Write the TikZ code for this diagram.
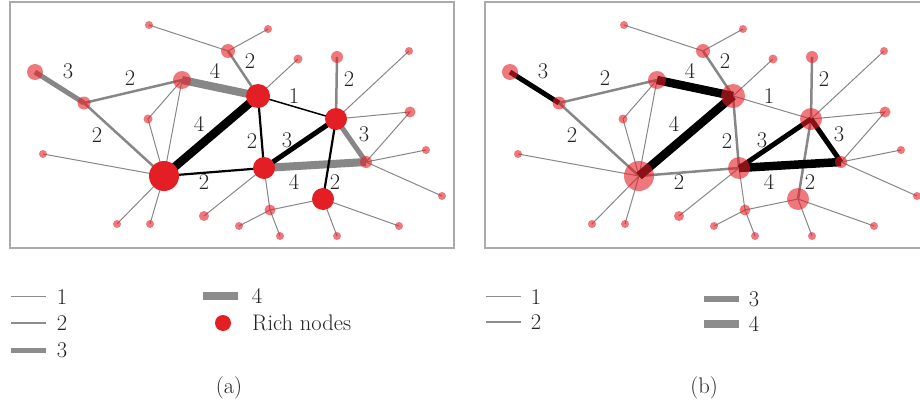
\documentclass[tikz,border=0pt]{standalone}
\usepackage{fontspec}
\setmainfont{Latin Modern Roman}
\definecolor{richred}{RGB}{227,30,36}
\definecolor{egray}{RGB}{135,135,135}
\definecolor{lgray}{RGB}{140,140,140}
\definecolor{fgray}{RGB}{170,170,170}
\definecolor{tgray}{RGB}{35,35,35}
\pgfdeclarelayer{edges}
\pgfsetlayers{edges,main}
\tikzset{
  pn/.style={circle,fill=richred,fill opacity=0.6,draw=none,inner sep=0pt,minimum size=#1pt},
  rn/.style={circle,fill=richred,draw=none,inner sep=0pt,minimum size=#1pt},
  g1/.style={draw=egray,line width=1pt},
  g2/.style={draw=egray,line width=2.5pt},
  g3/.style={draw=egray,line width=5pt},
  g4/.style={draw=egray,line width=8pt},
  k1/.style={draw=black,line width=1.5pt},
  k2/.style={draw=black,line width=2.2pt},
  k3/.style={draw=black,line width=5pt},
  k4/.style={draw=black,line width=8.5pt},
  lab/.style={inner sep=0pt,text=tgray,font=\fontsize{22.5}{25}\selectfont},
  frame/.style={draw=fgray,line width=1.5pt},
  leg/.style={draw=lgray},
}
% graph nodes: #1 suffix, #2 style of rich nodes
\newcommand\gnodes[2]{%
  \node[pn=16] (A#1) at (35,72) {};
  \node[pn=13] (B#1) at (84,103) {};
  \node[pn=18] (C#1) at (182,80) {};
  \node[pn=9]  (D#1) at (148,119) {};
  \node[#2=30] (E#1) at (164,176) {};
  \node[pn=8]  (F#1) at (43,154) {};
  \node[pn=8]  (G#1) at (149,25) {};
  \node[pn=14] (H#1) at (228,51) {};
  \node[#2=24] (I#1) at (258,96) {};
  \node[#2=22] (K#1) at (336,119) {};
  \node[#2=22] (N#1) at (264,168) {};
  \node[#2=22] (O#1) at (323,199) {};
  \node[pn=12] (J#1) at (337,57) {};
  \node[pn=11] (L#1) at (410,112) {};
  \node[pn=12] (M#1) at (366,162) {};
  \node[pn=11] (P#1) at (270,210) {};
  \node[pn=8]  (Qa#1) at (117,224) {};
  \node[pn=8]  (Qb#1) at (150,224) {};
  \node[pn=10] (Qc#1) at (204,216) {};
  \node[pn=8]  (Qd#1) at (239,226) {};
  \node[pn=8]  (Qe#1) at (280,236) {};
  \node[pn=8]  (Qf#1) at (337,236) {};
  \node[pn=8]  (Qg#1) at (399,226) {};
  \node[pn=8]  (Qh#1) at (268,29) {};
  \node[pn=9]  (Qi#1) at (298,59) {};
  \node[pn=8]  (Qj#1) at (409,51) {};
  \node[pn=8]  (Qk#1) at (426,150) {};
  \node[pn=8]  (Ql#1) at (442,196) {};
}
\newcommand\thinedges[1]{%
  \draw[g1] (C#1.center) -- (E#1.center);
  \draw[g1] (C#1.center) -- (D#1.center) -- (E#1.center);
  \draw[g1] (F#1.center) -- (E#1.center);
  \draw[g1] (Qa#1.center) -- (E#1.center) -- (Qb#1.center);
  \draw[g1] (G#1.center) -- (H#1.center) -- (Qh#1.center);
  \draw[g1] (I#1.center) -- (Qi#1.center);
  \draw[g1] (K#1.center) -- (Qj#1.center);
  \draw[g1] (K#1.center) -- (L#1.center) -- (M#1.center);
  \draw[g1] (Qk#1.center) -- (M#1.center) -- (Ql#1.center);
  \draw[g1] (Qd#1.center) -- (P#1.center) -- (O#1.center);
  \draw[g1] (Qf#1.center) -- (O#1.center) -- (Qg#1.center);
  \draw[g1] (N#1.center) -- (P#1.center) -- (Qe#1.center);
  \draw[g1] (Qc#1.center) -- (N#1.center);
}
\newcommand\glabels[1]{%
  \node[lab] (t1#1) at (68,71) {3};
  \node[lab] (t2#1) at (130,78) {2};
  \node[lab] (t3#1) at (97,135) {2};
  \node[lab] (t4#1) at (215,71) {4};
  \node[lab] (t5#1) at (199,124) {4};
  \node[lab] (t6#1) at (204,182) {2};
  \node[lab] (t7#1) at (250,61) {2};
  \node[lab] (t8#1) at (294,96) {1};
  \node[lab] (t9#1) at (252,141) {2};
  \node[lab] (t10#1) at (287,140) {3};
  \node[lab] (t11#1) at (294,182) {4};
  \node[lab] (t12#1) at (364,134) {3};
  \node[lab] (t13#1) at (349,79) {2};
  \node[lab] (t14#1) at (335,182) {2};
}
\begin{document}
\begin{tikzpicture}[x=1pt,y=-1pt]
\useasboundingbox (0,0) rectangle (920,404);
\draw[frame] (10,2) rectangle (454,248);
\draw[frame] (485,2) rectangle (930,248);

% ---------- panel (a)
\gnodes{a}{rn}
\begin{pgfonlayer}{edges}
  \thinedges{a}
  \draw[g3] (Aa.center) -- (Ba.center);
  \draw[g2] (Ba.center) -- (Ca.center);
  \draw[g2] (Ba.center) -- (Ea.center);
  \draw[g4] (Ca.center) -- (Ia.center);
  \draw[g2] (Ha.center) -- (Ia.center);
  \draw[g2] (Ka.center) -- (Ja.center);
  \draw[g4] (Na.center) -- (Ma.center);
  \draw[g3] (Ka.center) -- (Ma.center);
  \draw[k4] (Ea.center) -- (Ia.center);
  \draw[k2] (Ea.center) -- (Na.center);
  \draw[k1] (Ia.center) -- (Ka.center);
  \draw[k2] (Ia.center) -- (Na.center);
  \draw[k3] (Na.center) -- (Ka.center);
  \draw[k2] (Ka.center) -- (Oa.center);
\end{pgfonlayer}
\glabels{a}

% ---------- panel (b)
\begin{scope}[xshift=475pt]
\gnodes{b}{pn}
\glabels{b}
\end{scope}
\begin{pgfonlayer}{edges}
  \thinedges{b}
  \draw[g2] (Bb.center) -- (Cb.center);
  \draw[g2] (Bb.center) -- (Eb.center);
  \draw[g2] (Hb.center) -- (Ib.center);
  \draw[g2] (Kb.center) -- (Jb.center);
  \draw[g2] (Eb.center) -- (Nb.center);
  \draw[g1] (Ib.center) -- (Kb.center);
  \draw[g2] (Ib.center) -- (Nb.center);
  \draw[g2] (Kb.center) -- (Ob.center);
  \draw[k3] (Ab.center) -- (Bb.center);
  \draw[k4] (Cb.center) -- (Ib.center);
  \draw[k4] (Eb.center) -- (Ib.center);
  \draw[k3] (Nb.center) -- (Kb.center);
  \draw[k4] (Nb.center) -- (Mb.center);
  \draw[k3] (Kb.center) -- (Mb.center);
\end{pgfonlayer}

% ---------- legend (a)
\coordinate (la1s) at (11,296);  \coordinate (la1e) at (46,296);
\coordinate (la2s) at (11,323);  \coordinate (la2e) at (46,323);
\coordinate (la3s) at (11,350);  \coordinate (la3e) at (46,350);
\coordinate (la4s) at (203,296); \coordinate (la4e) at (238,296);
\draw[leg,line width=1pt] (la1s) -- (la1e);
\draw[leg,line width=2.2pt] (la2s) -- (la2e);
\draw[leg,line width=5pt] (la3s) -- (la3e);
\draw[leg,line width=7.5pt] (la4s) -- (la4e);
\node[lab] (lt1a) at (62,297) {1};
\node[lab] (lt2a) at (62,323) {2};
\node[lab] (lt3a) at (62,350) {3};
\node[lab] (lt4a) at (257,296) {4};
\node[rn=16] (richdot) at (223,323) {};
\node[lab,anchor=west] (richtxt) at (252,323) {Rich nodes};
\node[lab] (capa) at (229,388) {(a)};

% ---------- legend (b)
\coordinate (lb1s) at (486,296); \coordinate (lb1e) at (521,296);
\coordinate (lb2s) at (486,322); \coordinate (lb2e) at (521,322);
\coordinate (lb3s) at (704,299); \coordinate (lb3e) at (739,299);
\coordinate (lb4s) at (704,324); \coordinate (lb4e) at (739,324);
\draw[leg,line width=1pt] (lb1s) -- (lb1e);
\draw[leg,line width=2.2pt] (lb2s) -- (lb2e);
\draw[leg,line width=5.5pt] (lb3s) -- (lb3e);
\draw[leg,line width=7.5pt] (lb4s) -- (lb4e);
\node[lab] (lt1b) at (536,297) {1};
\node[lab] (lt2b) at (536,322) {2};
\node[lab] (lt3b) at (754,299) {3};
\node[lab] (lt4b) at (754,324) {4};
\node[lab] (capb) at (704,388) {(b)};
\end{tikzpicture}
\end{document}
